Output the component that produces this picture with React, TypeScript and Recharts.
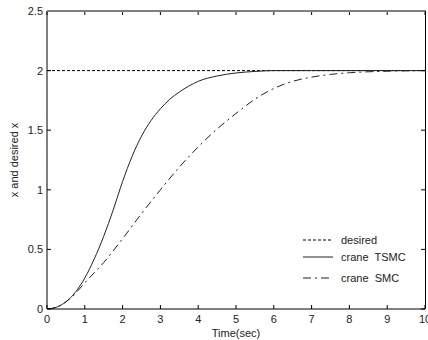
import { LineChart, Line, XAxis, YAxis, Legend, Label } from 'recharts';

const timeTicks = [0, 1, 2, 3, 4, 5, 6, 7, 8, 9, 10];
const posTicks = [0, 0.5, 1, 1.5, 2, 2.5];

const desiredTime = [0, 10];
const desiredX = [2, 2];

const tsmcTime = [0, 0.25, 0.5, 0.75, 1, 1.25, 1.5, 1.75, 2, 2.25, 2.5, 2.75, 3, 3.25, 3.5, 3.75, 4, 4.5, 5, 5.5, 6, 7, 8, 9, 10];
const tsmcX = [0, 0.015, 0.06, 0.14, 0.26, 0.42, 0.61, 0.83, 1.07, 1.28, 1.45, 1.58, 1.68, 1.76, 1.82, 1.87, 1.91, 1.955, 1.98, 1.993, 2, 2, 2, 2, 2];

const smcTime = [0, 0.25, 0.5, 0.75, 1, 1.5, 2, 2.5, 3, 3.5, 4, 4.5, 5, 5.5, 6, 6.5, 7, 7.5, 8, 8.5, 9, 10];
const smcX = [0, 0.015, 0.06, 0.13, 0.22, 0.39, 0.59, 0.8, 1.0, 1.19, 1.36, 1.51, 1.64, 1.76, 1.85, 1.91, 1.945, 1.968, 1.982, 1.99, 1.995, 2];

const toRows = (t: number[], v: number[]) => t.map((time, i) => ({ time, x: v[i] }));

const series = [
  { name: 'desired', data: toRows(desiredTime, desiredX), stroke: '#000', dash: '3 2', row: 10 },
  { name: 'crane  TSMC', data: toRows(tsmcTime, tsmcX), stroke: '#222', dash: undefined, row: 27 },
  { name: 'crane  SMC', data: toRows(smcTime, smcX), stroke: '#222', dash: '8 4 2 4', row: 48 },
];

const font = '"Liberation Sans", Arial, sans-serif';

const W = 428;
const H = 340;
const margin = { top: 11, right: 3, bottom: 0, left: 0 };
const yAxisW = 47;
const xAxisH = 31;
const plotW = W - margin.left - margin.right - yAxisW;
const plotH = H - margin.top - margin.bottom - xAxisH;

// bottom ticks point inward, and a matching tick is drawn on the top edge
const BottomTick = ({ x, y, payload }: any) => (
  <g>
    <path d={`M${x},${y}v-4M${x},${y - plotH}v4`} stroke="#000" strokeWidth={1} fill="none" />
    <text x={x} y={y + 14} textAnchor="middle" fontSize={11} fill="#222" fontFamily={font}>
      {payload.value}
    </text>
  </g>
);

const LeftTick = ({ x, y, payload }: any) => (
  <g>
    <path d={`M${x},${y}h4M${x + plotW},${y}h-4`} stroke="#000" strokeWidth={1} fill="none" />
    <text x={x - 4} y={y + 4} textAnchor="end" fontSize={11} fill="#222" fontFamily={font}>
      {payload.value}
    </text>
  </g>
);

const LegendBox = () => (
  <svg width={120} height={58}>
    {series.map((s) => (
      <g key={s.name}>
        <line x1={3} y1={s.row} x2={33} y2={s.row} stroke={s.stroke} strokeDasharray={s.dash} />
        <text
          x={41}
          y={s.row + 4}
          fontSize={11}
          fill="#222"
          fontFamily={font}
          style={{ whiteSpace: 'pre' }}
        >
          {s.name}
        </text>
      </g>
    ))}
  </svg>
);

export default function App() {
  return (
    <div style={{ position: 'absolute', left: 0, top: 0, width: W, height: H, background: '#fff' }}>
      <LineChart width={W} height={H} margin={margin}>
        <XAxis
          type="number"
          dataKey="time"
          domain={[0, 10]}
          ticks={timeTicks}
          interval={0}
          height={xAxisH}
          tickSize={0}
          tickMargin={0}
          tickLine={false}
          tick={<BottomTick />}
          axisLine={{ stroke: '#000' }}
          allowDataOverflow
        >
          <Label
            value="Time(sec)"
            position="insideBottom"
            offset={3}
            style={{ fontSize: 11, fill: '#222', fontFamily: font }}
          />
        </XAxis>
        <YAxis
          type="number"
          domain={[0, 2.5]}
          ticks={posTicks}
          interval={0}
          width={yAxisW}
          tickSize={0}
          tickMargin={0}
          tickLine={false}
          tick={<LeftTick />}
          axisLine={{ stroke: '#000' }}
          allowDataOverflow
        >
          <Label
            value="x and desired x"
            angle={-90}
            position="insideLeft"
            offset={14}
            style={{ fontSize: 11, fill: '#222', fontFamily: font, textAnchor: 'middle' }}
          />
        </YAxis>
        <Legend
          layout="vertical"
          align="center"
          verticalAlign="middle"
          content={<LegendBox />}
          wrapperStyle={{ left: 300, top: 230, width: 120, height: 58 }}
        />
        {series.map((s) => (
          <Line
            key={s.name}
            data={s.data}
            dataKey="x"
            name={s.name}
            type="monotone"
            stroke={s.stroke}
            strokeWidth={1}
            strokeDasharray={s.dash}
            dot={false}
            activeDot={false}
            isAnimationActive={false}
          />
        ))}
      </LineChart>
      {/* box edges on the top and right, as in the matlab figure */}
      <div
        style={{
          position: 'absolute',
          left: margin.left + yAxisW,
          top: margin.top - 1,
          width: plotW + 1,
          height: plotH + 1,
          boxSizing: 'border-box',
          borderTop: '2px solid #808080',
          borderRight: '1px solid #000',
          pointerEvents: 'none',
        }}
      />
    </div>
  );
}
